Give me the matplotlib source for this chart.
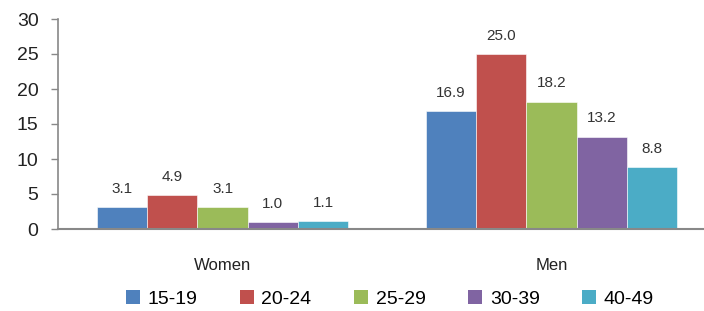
import matplotlib
matplotlib.use("Agg")
import matplotlib.pyplot as plt
from matplotlib.patches import Patch
import numpy as np

plt.rcParams['font.family'] = ['Liberation Sans', 'DejaVu Sans']

categories = ["Women", "Men"]
age_groups = ["15-19", "20-24", "25-29", "30-39", "40-49"]
values = {
    "15-19": [3.1, 16.9],
    "20-24": [4.9, 25.0],
    "25-29": [3.1, 18.2],
    "30-39": [1.0, 13.2],
    "40-49": [1.1, 8.8],
}
colors = ["#4F81BD", "#C0504D", "#9BBB59", "#8064A2", "#4BACC6"]
yticks = [0, 5, 10, 15, 20, 25, 30]

fig = plt.figure(figsize=(7.04, 3.11), dpi=100)
ax = fig.add_axes([58/704, 82/311, 645/704, 210/311])

x = np.arange(len(categories))
bw = 0.153
n = len(age_groups)
for i, (g, c) in enumerate(zip(age_groups, colors)):
    offs = (i - (n - 1) / 2) * bw
    ax.bar(x + offs, values[g], width=bw, color=c, edgecolor='white', linewidth=0.4)
    for xi, v in zip(x + offs, values[g]):
        ax.annotate(f"{v:.1f}", (xi, v), xytext=(0, 8), textcoords='offset points',
                    ha='center', va='bottom', fontsize=11, color='#333333')

ax.set_xlim(-0.5, 1.46)
ax.set_ylim(0, 30)
ax.set_yticks(yticks)
ax.set_yticklabels([str(t) for t in yticks], fontsize=14, color='#222222')
ax.set_xticks(x)
ax.set_xticklabels(categories, fontsize=12, color='#222222')
ax.tick_params(axis='x', length=0, pad=21)
ax.tick_params(axis='y', length=5, width=1, color='#888888', pad=9)
for s in ['top', 'right']:
    ax.spines[s].set_visible(False)
ax.spines['left'].set_color('#888888')
ax.spines['bottom'].set_color('#888888')
ax.spines['left'].set_linewidth(1.2)
ax.spines['bottom'].set_linewidth(1.5)

handles = [Patch(facecolor=c, edgecolor='none') for c in colors]
fig.legend(handles, age_groups, loc='center', bbox_to_anchor=(0.554, 0.038), ncol=5,
           frameon=False, fontsize=14, handlelength=0.7, handleheight=0.7,
           handletextpad=0.4, columnspacing=2.2)

fig.savefig("out.png", dpi=100)
